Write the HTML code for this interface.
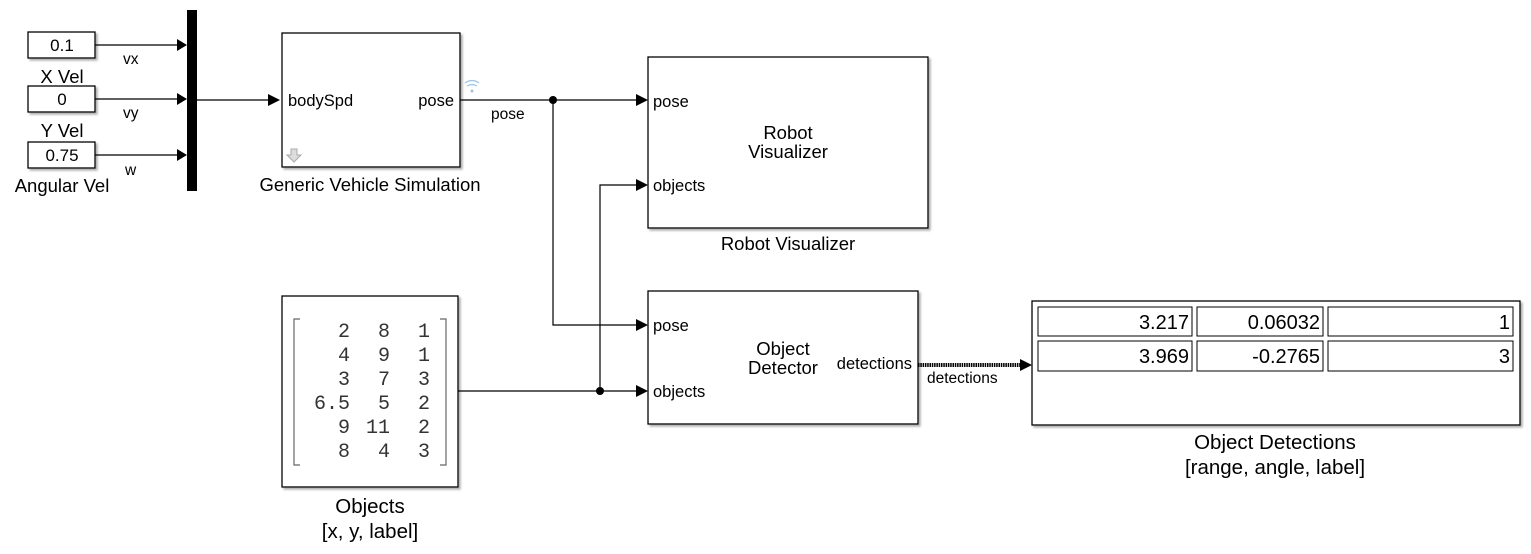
<!DOCTYPE html>
<html><head><style>body{margin:0;background:#fff}svg{display:block}</style></head><body>
<svg width="1531" height="554" viewBox="0 0 1531 554" xmlns="http://www.w3.org/2000/svg" font-family="Liberation Sans, sans-serif" font-size="15">
<defs><filter id="sh"><feDropShadow dx="2" dy="2" stdDeviation="1" flood-color="#999" flood-opacity="0.8"/></filter></defs>
<g fill="#fff" stroke="#000" stroke-width="1.3" filter="url(#sh)">
<rect x="28" y="32" width="67" height="26"/>
<rect x="28" y="86" width="67" height="26"/>
<rect x="28" y="142" width="67" height="26"/>
<rect x="282" y="33" width="178" height="134"/>
<rect x="648" y="57" width="280" height="171"/>
<rect x="648" y="291" width="270" height="133"/>
<rect x="1032" y="301" width="488" height="124"/>
<rect x="282" y="296" width="176" height="191"/>
</g>
<rect x="187" y="10" width="10" height="181" fill="#000"/>
<g text-anchor="middle" font-size="18.5">
<text x="62" y="51" font-size="17">0.1</text><text x="62" y="105" font-size="17">0</text><text x="62" y="161" font-size="17">0.75</text>
<text x="62" y="83">X Vel</text><text x="62" y="137">Y Vel</text><text x="62" y="192">Angular Vel</text>
<text x="370" y="191">Generic Vehicle Simulation</text>
<text x="788" y="139">Robot</text><text x="788" y="158">Visualizer</text>
<text x="788" y="250">Robot Visualizer</text>
<text x="783" y="355">Object</text><text x="783" y="374">Detector</text>
<text x="1275" y="449" font-size="20.5">Object Detections</text>
<text x="1275" y="474" font-size="20.5">[range, angle, label]</text>
<text x="370" y="513" font-size="20.5">Objects</text>
<text x="370" y="538" font-size="20.5">[x, y, label]</text>
</g>
<g font-size="15.5">
<text x="123" y="64">vx</text><text x="123" y="118">vy</text><text x="125" y="175">w</text>
<text x="491" y="119">pose</text>
<text x="927" y="383">detections</text>
</g>
<g font-size="16.5">
<text x="288" y="106">bodySpd</text><text x="454" y="106" text-anchor="end">pose</text>
<text x="653" y="107">pose</text><text x="653" y="191">objects</text>
<text x="653" y="331">pose</text><text x="653" y="397">objects</text>
<text x="912" y="369" text-anchor="end">detections</text>
</g>
<g stroke="#000" stroke-width="1.2" fill="none">
<path d="M95 45H177M95 99H177M95 155H177M197 100H270M460 100H636M553 100V325H636M458 391H636M600 391V185H636"/>
<path d="M300 319h-6v146h6M440 319h6v146h-6" stroke="#666"/>
</g>
<path d="M918 365H1020" stroke="#000" stroke-width="4" stroke-dasharray="1.5 0.8"/>
<g fill="#000">
<path d="M177 39l10 6-10 6zM177 93l10 6-10 6zM177 149l10 6-10 6zM268 94l12 6-12 6zM636 94l12 6-12 6zM636 179l12 6-12 6zM636 319l12 6-12 6zM636 385l12 6-12 6zM1020 359l12 6-12 6z"/>
<circle cx="553" cy="100" r="4"/><circle cx="600" cy="391" r="4"/>
</g>
<g fill="none" stroke="#9cc3e5" stroke-width="1.3"><path d="M465 83q7-5 14 0M467 86q5-3 10 0"/></g>
<circle cx="472" cy="91" r="1.5" fill="#9cc3e5"/>
<path d="M291 149h6v6h4l-7 7-7-7h4z" fill="#ddd" stroke="#aaa"/>
<g fill="none" stroke="#000" stroke-width="1">
<rect x="1038" y="307" width="154" height="29"/><rect x="1197" y="307" width="126" height="29"/><rect x="1328" y="307" width="185" height="29"/>
<rect x="1038" y="341" width="154" height="30"/><rect x="1197" y="341" width="126" height="30"/><rect x="1328" y="341" width="185" height="30"/>
</g>
<g text-anchor="end" font-size="20">
<text x="1189" y="329">3.217</text><text x="1320" y="329">0.06032</text><text x="1510" y="329">1</text>
<text x="1189" y="363">3.969</text><text x="1320" y="363">-0.2765</text><text x="1510" y="363">3</text>
</g>
<g font-family="Liberation Mono, monospace" font-size="20" text-anchor="end" fill="#333">
<text x="350" y="337">2</text><text x="390" y="337">8</text><text x="430" y="337">1</text>
<text x="350" y="361">4</text><text x="390" y="361">9</text><text x="430" y="361">1</text>
<text x="350" y="385">3</text><text x="390" y="385">7</text><text x="430" y="385">3</text>
<text x="350" y="409">6.5</text><text x="390" y="409">5</text><text x="430" y="409">2</text>
<text x="350" y="433">9</text><text x="390" y="433">11</text><text x="430" y="433">2</text>
<text x="350" y="457">8</text><text x="390" y="457">4</text><text x="430" y="457">3</text>
</g>
</svg>
</body></html>
